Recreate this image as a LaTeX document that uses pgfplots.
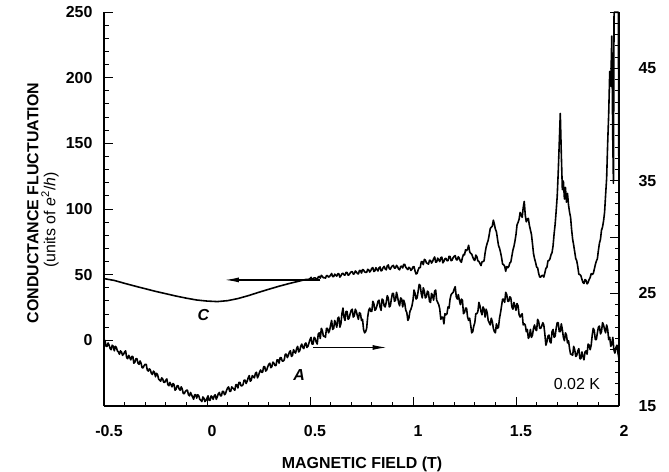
\documentclass[border=0pt]{standalone}
\usepackage{fontspec}
\setmainfont{Liberation Sans}
\usepackage{pgfplots}
\usepackage{pgfplotstable}
\pgfplotsset{compat=1.18}
\usetikzlibrary{arrows.meta}

% Trace C: conductance fluctuation, left axis (units of e^2/h)
\pgfplotstableread{
x y
-0.50 47.0
-0.45 45.6
-0.40 43.4
-0.35 41.3
-0.30 39.3
-0.25 37.3
-0.20 35.5
-0.15 33.7
-0.10 32.1
-0.05 30.7
0.00 29.9
0.05 29.5
0.10 30.2
0.15 31.8
0.20 34.0
0.25 36.5
0.30 38.9
0.35 41.2
0.40 43.3
0.45 45.2
0.46 45.6
0.47 45.9
0.48 46.4
0.49 46.3
0.50 46.9
0.505 48.0
0.51 46.7
0.515 46.3
0.52 47.6
0.525 47.6
0.53 47.0
0.535 46.1
0.54 48.2
0.545 48.7
0.55 47.4
0.555 49.5
0.56 48.7
0.565 47.6
0.57 47.8
0.575 47.3
0.58 49.3
0.585 49.3
0.59 48.1
0.595 48.6
0.60 49.7
0.605 50.9
0.61 48.5
0.615 48.5
0.62 50.4
0.625 49.6
0.63 48.9
0.635 50.7
0.64 50.7
0.645 48.1
0.65 49.2
0.655 50.7
0.66 51.1
0.665 49.8
0.67 49.7
0.675 51.8
0.68 51.6
0.685 49.6
0.69 50.0
0.695 51.3
0.70 52.1
0.705 52.4
0.71 50.4
0.715 50.7
0.72 52.8
0.725 52.1
0.73 50.9
0.735 50.5
0.74 53.2
0.745 53.1
0.75 51.2
0.755 53.9
0.76 53.6
0.765 52.1
0.77 51.8
0.775 51.7
0.78 54.1
0.785 53.6
0.79 52.0
0.795 53.1
0.80 54.8
0.805 55.4
0.81 52.4
0.815 52.9
0.82 55.3
0.825 54.0
0.83 52.8
0.835 55.2
0.84 55.9
0.845 52.8
0.85 53.4
0.855 55.4
0.86 56.3
0.865 54.4
0.87 53.7
0.875 56.7
0.88 57.4
0.885 54.5
0.89 54.1
0.895 55.7
0.90 56.7
0.905 57.0
0.91 54.9
0.915 55.1
0.92 57.1
0.925 56.0
0.93 54.3
0.935 53.7
0.94 56.2
0.945 56.5
0.95 55.1
0.955 57.9
0.96 57.8
0.965 55.6
0.97 54.7
0.975 53.9
0.98 55.6
0.985 55.0
0.99 53.2
0.995 54.2
1.00 55.9
1.005 56.1
1.01 52.8
1.015 50.5
1.02 51.0
1.025 53.6
1.03 55.4
1.035 55.3
1.04 59.8
1.045 60.0
1.05 57.6
1.055 61.6
1.06 61.2
1.065 59.0
1.07 58.6
1.075 58.0
1.08 61.0
1.085 60.8
1.09 58.8
1.095 60.0
1.10 62.1
1.105 63.5
1.11 59.5
1.115 59.7
1.12 62.6
1.125 61.3
1.13 60.0
1.135 63.0
1.14 63.3
1.145 59.0
1.15 60.2
1.155 62.2
1.16 62.4
1.165 60.6
1.17 60.7
1.175 64.0
1.18 63.8
1.185 60.6
1.19 61.1
1.195 63.0
1.20 64.0
1.205 64.5
1.21 61.4
1.215 61.2
1.22 63.7
1.225 62.4
1.23 60.3
1.235 59.4
1.24 63.1
1.245 65.4
1.25 65.0
1.255 68.9
1.26 68.3
1.265 69.4
1.27 72.4
1.275 67.5
1.28 66.2
1.285 65.7
1.29 63.4
1.295 61.6
1.30 60.8
1.305 64.9
1.31 63.7
1.315 60.5
1.32 60.1
1.325 58.5
1.33 56.9
1.335 59.8
1.34 60.0
1.345 60.5
1.35 66.5
1.355 71.0
1.36 73.8
1.365 76.2
1.37 80.4
1.375 85.1
1.38 86.2
1.385 87.0
1.39 91.5
1.395 88.5
1.40 84.6
1.405 82.7
1.41 77.3
1.415 72.3
1.42 70.1
1.425 67.0
1.43 63.0
1.435 58.0
1.44 57.6
1.445 56.4
1.45 52.6
1.455 56.2
1.46 55.3
1.465 56.2
1.47 58.9
1.475 59.7
1.48 64.2
1.485 68.7
1.49 71.5
1.495 75.6
1.50 80.6
1.505 87.9
1.51 89.8
1.515 92.2
1.52 97.4
1.525 95.5
1.53 93.6
1.535 101.0
1.54 105.8
1.545 95.3
1.55 90.2
1.555 92.4
1.56 92.8
1.565 87.5
1.57 84.1
1.575 80.6
1.58 73.6
1.585 66.1
1.59 62.2
1.595 59.4
1.60 55.8
1.605 55.2
1.61 51.0
1.615 48.2
1.62 48.2
1.625 49.3
1.63 49.5
1.635 48.1
1.64 51.3
1.645 54.8
1.65 55.6
1.655 60.4
1.66 60.8
1.665 62.1
1.67 65.2
1.675 66.8
1.68 72.1
1.685 81.1
1.69 88.4
1.695 98.5
1.70 109.6
1.705 128.0
1.71 150.3
1.715 172.8
1.72 141.5
1.725 114.7
1.73 121.3
1.735 107.6
1.74 116.4
1.745 105.2
1.75 111.8
1.755 103.0
1.76 97.6
1.765 93.6
1.77 84.2
1.775 77.0
1.78 72.5
1.785 67.4
1.79 62.3
1.795 60.5
1.80 56.0
1.805 50.3
1.81 50.1
1.815 49.2
1.82 46.5
1.825 44.0
1.83 43.3
1.835 46.3
1.84 45.7
1.845 43.0
1.85 44.0
1.855 46.3
1.86 47.8
1.865 50.8
1.87 50.2
1.875 50.8
1.88 54.1
1.885 57.6
1.89 60.3
1.895 62.1
1.90 68.5
1.905 74.0
1.91 76.9
1.915 83.8
1.92 86.2
1.925 90.9
1.93 97.5
1.935 110.8
1.94 123.4
1.945 150.2
1.95 172.6
1.955 204.8
1.96 193.5
1.965 231.7
1.97 150.0
1.973 119.6
1.976 249.8
1.997 249.8
1.999 140.0
2.000 152.0
}\curveC

% Trace A: conductance, right axis
\pgfplotstableread{
x y
-0.50 20.9
-0.495 20.8
-0.49 20.3
-0.485 20.3
-0.48 20.6
-0.475 20.4
-0.47 20.1
-0.465 20.0
-0.46 20.4
-0.455 20.3
-0.45 19.9
-0.445 20.3
-0.44 20.2
-0.435 19.9
-0.43 19.8
-0.425 19.6
-0.42 19.9
-0.415 19.8
-0.41 19.5
-0.405 19.6
-0.40 19.8
-0.395 19.9
-0.39 19.3
-0.385 19.2
-0.38 19.5
-0.375 19.3
-0.37 19.1
-0.365 19.4
-0.36 19.4
-0.355 18.8
-0.35 18.9
-0.345 19.2
-0.34 19.2
-0.335 18.8
-0.33 18.7
-0.325 19.0
-0.32 18.8
-0.315 18.4
-0.31 18.4
-0.305 18.6
-0.30 18.7
-0.295 18.7
-0.29 18.2
-0.285 18.1
-0.28 18.3
-0.275 18.2
-0.27 17.9
-0.265 17.8
-0.26 18.1
-0.255 18.0
-0.25 17.6
-0.245 17.9
-0.24 17.8
-0.235 17.4
-0.23 17.3
-0.225 17.2
-0.22 17.5
-0.215 17.4
-0.21 17.1
-0.205 17.1
-0.20 17.3
-0.195 17.4
-0.19 16.9
-0.185 16.8
-0.18 17.1
-0.175 16.9
-0.17 16.7
-0.165 17.0
-0.16 16.9
-0.155 16.4
-0.15 16.5
-0.145 16.8
-0.14 16.8
-0.135 16.5
-0.13 16.4
-0.125 16.7
-0.12 16.5
-0.115 16.1
-0.11 16.1
-0.105 16.3
-0.10 16.4
-0.095 16.4
-0.09 16.0
-0.085 15.9
-0.08 16.2
-0.075 16.0
-0.07 15.8
-0.065 15.6
-0.06 16.0
-0.055 16.0
-0.05 15.7
-0.045 16.0
-0.04 15.9
-0.035 15.6
-0.03 15.5
-0.025 15.4
-0.02 15.8
-0.015 15.7
-0.01 15.4
-0.005 15.5
0.00 15.7
0.005 15.9
0.01 15.5
0.015 15.5
0.02 15.9
0.025 15.8
0.03 15.6
0.035 15.9
0.04 16.0
0.045 15.6
0.05 15.8
0.055 16.1
0.06 16.2
0.065 15.9
0.07 15.9
0.075 16.3
0.08 16.3
0.085 16.0
0.09 16.1
0.095 16.4
0.10 16.6
0.105 16.7
0.11 16.3
0.115 16.3
0.12 16.7
0.125 16.6
0.13 16.5
0.135 16.4
0.14 16.9
0.145 16.9
0.15 16.6
0.155 17.1
0.16 17.1
0.165 16.8
0.17 16.8
0.175 16.9
0.18 17.3
0.185 17.3
0.19 17.0
0.195 17.2
0.20 17.5
0.205 17.7
0.21 17.2
0.215 17.3
0.22 17.7
0.225 17.6
0.23 17.5
0.235 17.9
0.24 18.0
0.245 17.5
0.25 17.7
0.255 18.0
0.26 18.2
0.265 18.0
0.27 18.0
0.275 18.5
0.28 18.5
0.285 18.1
0.29 18.2
0.295 18.5
0.30 18.7
0.305 18.8
0.31 18.4
0.315 18.5
0.32 18.9
0.325 18.8
0.33 18.6
0.335 18.6
0.34 19.1
0.345 19.1
0.35 18.8
0.355 19.3
0.36 19.3
0.365 19.0
0.37 19.0
0.375 19.1
0.38 19.6
0.385 19.6
0.39 19.3
0.395 19.5
0.40 19.8
0.405 19.9
0.41 19.4
0.415 19.5
0.42 20.0
0.425 19.8
0.43 19.7
0.435 20.1
0.44 20.3
0.445 19.8
0.45 19.9
0.455 20.3
0.46 20.5
0.465 20.2
0.47 20.1
0.475 20.5
0.48 20.6
0.485 20.2
0.49 20.3
0.495 20.6
0.50 20.9
0.505 21.1
0.51 20.5
0.515 20.5
0.52 21.1
0.525 21.0
0.53 20.7
0.535 20.5
0.54 21.4
0.545 21.5
0.55 21.0
0.555 21.9
0.56 21.7
0.565 21.2
0.57 21.2
0.575 21.1
0.58 21.9
0.585 21.9
0.59 21.5
0.595 21.7
0.60 22.2
0.605 22.6
0.61 21.8
0.615 21.9
0.62 22.6
0.625 22.3
0.63 22.0
0.635 22.8
0.64 22.9
0.645 22.0
0.65 22.3
0.655 23.2
0.66 23.7
0.665 22.9
0.67 22.6
0.675 23.4
0.68 23.4
0.685 22.7
0.69 22.8
0.695 23.2
0.70 23.5
0.705 23.6
0.71 22.9
0.715 23.0
0.72 23.6
0.725 23.4
0.73 23.0
0.735 22.7
0.74 23.3
0.745 23.2
0.75 22.6
0.755 22.7
0.76 21.8
0.765 21.5
0.77 21.6
0.775 21.9
0.78 22.9
0.785 23.5
0.79 23.7
0.795 23.4
0.80 23.4
0.805 24.3
0.81 24.1
0.815 23.5
0.82 23.6
0.825 23.9
0.83 24.3
0.835 24.4
0.84 23.8
0.845 23.5
0.85 24.5
0.855 24.4
0.86 23.9
0.865 23.8
0.87 24.2
0.875 24.8
0.88 24.6
0.885 23.8
0.89 23.9
0.895 24.5
0.90 25.0
0.905 25.0
0.91 24.3
0.915 24.4
0.92 25.1
0.925 24.7
0.93 24.2
0.935 23.9
0.94 24.6
0.945 24.5
0.95 23.8
0.955 24.4
0.96 24.1
0.965 23.5
0.97 23.3
0.975 22.6
0.98 22.8
0.985 23.4
0.99 23.6
0.995 23.9
1.00 24.4
1.005 25.3
1.01 25.0
1.015 24.5
1.02 24.6
1.025 25.2
1.03 25.8
1.035 25.7
1.04 25.0
1.045 24.6
1.05 25.5
1.055 25.2
1.06 24.6
1.065 24.7
1.07 25.2
1.075 25.1
1.08 24.3
1.085 24.2
1.09 25.0
1.095 24.8
1.10 24.4
1.105 25.2
1.11 25.3
1.115 24.4
1.12 24.2
1.125 24.0
1.13 23.6
1.135 22.7
1.14 22.9
1.145 22.9
1.15 22.3
1.155 23.2
1.16 23.1
1.165 23.2
1.17 23.8
1.175 23.7
1.18 24.5
1.185 24.9
1.19 25.0
1.195 25.1
1.20 25.4
1.205 25.6
1.21 24.7
1.215 24.5
1.22 24.9
1.225 24.4
1.23 24.0
1.235 24.5
1.24 24.4
1.245 23.2
1.25 23.3
1.255 23.7
1.26 23.7
1.265 22.9
1.27 22.6
1.275 22.8
1.28 22.2
1.285 21.5
1.29 21.6
1.295 22.1
1.30 22.4
1.305 23.2
1.31 23.2
1.315 23.4
1.32 24.2
1.325 23.9
1.33 23.4
1.335 23.1
1.34 23.8
1.345 23.6
1.35 22.9
1.355 23.6
1.36 23.3
1.365 22.6
1.37 22.4
1.375 22.2
1.38 22.8
1.385 22.5
1.39 21.9
1.395 21.6
1.40 21.5
1.405 22.3
1.41 21.9
1.415 22.0
1.42 22.8
1.425 23.3
1.43 23.9
1.435 24.5
1.44 24.5
1.445 24.2
1.45 25.1
1.455 24.9
1.46 24.3
1.465 24.3
1.47 24.7
1.475 24.6
1.48 23.8
1.485 23.6
1.49 24.2
1.495 23.9
1.50 23.5
1.505 24.1
1.51 23.9
1.515 23.1
1.52 22.9
1.525 23.1
1.53 23.2
1.535 22.2
1.54 22.3
1.545 22.2
1.55 21.6
1.555 21.8
1.56 21.0
1.565 21.2
1.57 21.8
1.575 21.1
1.58 21.3
1.585 21.9
1.59 22.2
1.595 21.8
1.60 21.7
1.605 22.7
1.61 22.5
1.615 21.9
1.62 21.9
1.625 22.1
1.63 22.4
1.635 22.2
1.64 21.4
1.645 20.4
1.65 20.7
1.655 21.2
1.66 21.3
1.665 20.7
1.67 20.6
1.675 21.6
1.68 21.8
1.685 21.1
1.69 21.2
1.695 21.9
1.70 22.4
1.705 22.4
1.71 21.6
1.715 21.6
1.72 22.3
1.725 21.8
1.73 21.1
1.735 20.8
1.74 21.5
1.745 21.3
1.75 20.6
1.755 20.8
1.76 20.1
1.765 19.6
1.77 19.6
1.775 19.5
1.78 20.3
1.785 20.0
1.79 19.4
1.795 19.5
1.80 19.9
1.805 20.1
1.81 19.2
1.815 19.2
1.82 19.8
1.825 19.4
1.83 19.1
1.835 19.8
1.84 19.9
1.845 19.6
1.85 20.5
1.855 20.4
1.86 20.0
1.865 20.4
1.87 21.3
1.875 21.9
1.88 21.7
1.885 20.9
1.89 20.9
1.895 21.5
1.90 22.0
1.905 22.1
1.91 21.4
1.915 21.6
1.92 22.4
1.925 22.2
1.93 21.8
1.935 21.5
1.94 22.2
1.945 21.8
1.95 20.9
1.955 21.1
1.96 20.3
1.965 20.5
1.97 21.1
1.975 20.0
1.98 19.7
1.985 20.2
1.99 20.4
1.995 19.7
2.00 19.2
}\curveA

\newcommand{\lblfont}{\fontsize{16}{19}\selectfont}

\begin{document}
\begin{tikzpicture}
\path[use as bounding box] (-104bp,-66bp) rectangle (565bp,406bp);
\pgfplotsset{
  every axis/.append style={
    scale only axis, width=515bp, height=394bp,
    at={(0,0)}, anchor=south west,
    xmin=-0.5, xmax=2,
    tick align=inside,
    major tick length=9bp, minor tick length=4.5bp,
    axis line style={line width=1.2pt},
    every tick/.style={line width=0.9pt, black},
    tick label style={font=\lblfont\bfseries},
    /pgf/number format/assume math mode=true,
  }
}
% left axis: trace C
\begin{axis}[
  axis x line*=bottom, axis y line*=left,
  ymin=-50, ymax=250,
  xtick={-0.5,0,0.5,1,1.5,2}, minor x tick num=4,
  ytick={0,50,...,250}, minor y tick num=4,
  xticklabel style={yshift=-16bp, xshift=5bp},
  yticklabel style={xshift=-8bp},
]
\addplot[black, line width=1.6pt, line join=round] table {\curveC};
\draw[line width=1.2pt, -{Latex[length=14bp,width=5bp]}] (axis cs:0.55,46) -- (axis cs:0.087,46);
\node at (axis cs:-0.017,18.9) {\lblfont\bfseries\itshape C};
\end{axis}
% right axis: trace A
\begin{axis}[
  axis x line=none, axis y line*=right,
  ymin=15, ymax=50,
  ytick={15,20,...,50}, yticklabels={15,,25,,35,,45,},
  minor y tick num=4,
  yticklabel style={xshift=16bp},
]
\addplot[black, line width=1.6pt, line join=round] table {\curveA};
\draw[line width=1.2pt, -{Latex[length=14bp,width=5bp]}] (axis cs:0.516,20.2) -- (axis cs:0.872,20.2);
\node at (axis cs:0.447,17.75) {\lblfont\bfseries\itshape A};
\node at (axis cs:1.796,16.95) {\lblfont 0.02 K};
\end{axis}
\node[rotate=90, font=\lblfont\bfseries] at (-71bp,203bp) {CONDUCTANCE FLUCTUATION};
\node[rotate=90, font=\lblfont] at (-54bp,186bp) {(units of \textit{e}\textsuperscript{2}/\textit{h})};
\node[anchor=base, font=\lblfont\bfseries] at (258bp,-62bp) {MAGNETIC FIELD (T)};
\end{tikzpicture}
\end{document}
